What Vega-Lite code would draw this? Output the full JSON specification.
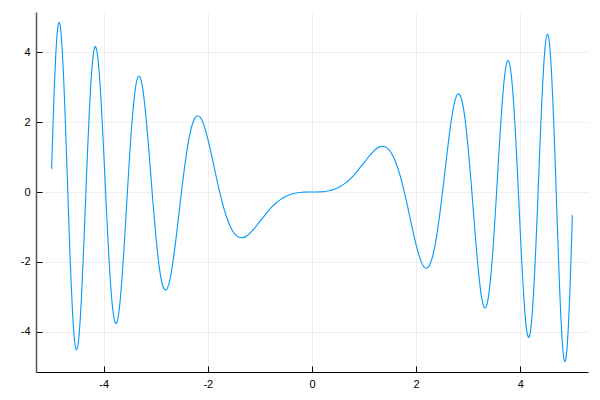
{
  "$schema": "https://vega.github.io/schema/vega-lite/v6.json",
  "width": 552,
  "height": 360,
  "autosize": {"type": "none"},
  "padding": {"left": 36, "top": 12, "right": 12, "bottom": 28},
  "background": "white",
  "config": {
    "view": {"stroke": null},
    "axis": {
      "gridColor": "#000000",
      "gridOpacity": 0.1,
      "gridWidth": 0.6,
      "domainColor": "#000000",
      "domainWidth": 1,
      "tickColor": "#000000",
      "tickSize": -6,
      "tickWidth": 1,
      "labelFont": "Liberation Sans",
      "labelFontSize": 11,
      "labelColor": "#000000",
      "labelPadding": 12,
      "title": null
    }
  },
  "data": {"values": [
    {"x": -5, "y": 0.662}, {"x": -4.975, "y": 1.8557}, {"x": -4.95, "y": 2.9173}, {"x": -4.925, "y": 3.788},
    {"x": -4.9, "y": 4.4164}, {"x": -4.875, "y": 4.774}, {"x": -4.856, "y": 4.855}, {"x": -4.85, "y": 4.8462},
    {"x": -4.825, "y": 4.635}, {"x": -4.8, "y": 4.1593}, {"x": -4.775, "y": 3.4571}, {"x": -4.75, "y": 2.5686},
    {"x": -4.725, "y": 1.5507}, {"x": -4.7, "y": 0.4636}, {"x": -4.675, "y": -0.6321}, {"x": -4.65, "y": -1.6759},
    {"x": -4.625, "y": -2.6136}, {"x": -4.6, "y": -3.3989}, {"x": -4.575, "y": -3.9921}, {"x": -4.55, "y": -4.3701},
    {"x": -4.522, "y": -4.521}, {"x": -4.5, "y": -4.4345}, {"x": -4.475, "y": -4.1309}, {"x": -4.45, "y": -3.6276},
    {"x": -4.425, "y": -2.9541}, {"x": -4.4, "y": -2.1496}, {"x": -4.375, "y": -1.2552}, {"x": -4.35, "y": -0.3169},
    {"x": -4.325, "y": 0.6206}, {"x": -4.3, "y": 1.5132}, {"x": -4.275, "y": 2.3213}, {"x": -4.25, "y": 3.01},
    {"x": -4.225, "y": 3.5532}, {"x": -4.2, "y": 3.929}, {"x": -4.175, "y": 4.127}, {"x": -4.16, "y": 4.159},
    {"x": -4.15, "y": 4.1432}, {"x": -4.125, "y": 3.9827}, {"x": -4.1, "y": 3.6576}, {"x": -4.075, "y": 3.1858},
    {"x": -4.05, "y": 2.5917}, {"x": -4.025, "y": 1.9034}, {"x": -4, "y": 1.1515}, {"x": -3.975, "y": 0.3677},
    {"x": -3.95, "y": -0.4159}, {"x": -3.925, "y": -1.1689}, {"x": -3.9, "y": -1.863}, {"x": -3.875, "y": -2.4738},
    {"x": -3.85, "y": -2.9804}, {"x": -3.825, "y": -3.3687}, {"x": -3.8, "y": -3.6271}, {"x": -3.775, "y": -3.7508},
    {"x": -3.765, "y": -3.762}, {"x": -3.75, "y": -3.7395}, {"x": -3.725, "y": -3.598}, {"x": -3.7, "y": -3.3368},
    {"x": -3.675, "y": -2.9661}, {"x": -3.65, "y": -2.5046}, {"x": -3.625, "y": -1.9691}, {"x": -3.6, "y": -1.3807},
    {"x": -3.575, "y": -0.76}, {"x": -3.55, "y": -0.1281}, {"x": -3.525, "y": 0.4946}, {"x": -3.5, "y": 1.089},
    {"x": -3.45, "y": 2.1262}, {"x": -3.4, "y": 2.8727}, {"x": -3.35, "y": 3.2641}, {"x": -3.323, "y": 3.319},
    {"x": -3.3, "y": 3.2816}, {"x": -3.25, "y": 2.9503}, {"x": -3.2, "y": 2.3287}, {"x": -3.15, "y": 1.5039},
    {"x": -3.1, "y": 0.5708}, {"x": -3.05, "y": -0.3721}, {"x": -3, "y": -1.2364}, {"x": -2.95, "y": -1.9504},
    {"x": -2.9, "y": -2.4632}, {"x": -2.85, "y": -2.7479}, {"x": -2.814, "y": -2.808}, {"x": -2.8, "y": -2.7997},
    {"x": -2.75, "y": -2.6347}, {"x": -2.7, "y": -2.2827}, {"x": -2.65, "y": -1.7856}, {"x": -2.6, "y": -1.1932},
    {"x": -2.55, "y": -0.5547}, {"x": -2.5, "y": 0.083}, {"x": -2.45, "y": 0.6787}, {"x": -2.4, "y": 1.1991},
    {"x": -2.35, "y": 1.6203}, {"x": -2.3, "y": 1.9273}, {"x": -2.25, "y": 2.1135}, {"x": -2.2, "y": 2.1821},
    {"x": -2.15, "y": 2.1414}, {"x": -2.1, "y": 2.0054}, {"x": -2.05, "y": 1.7891}, {"x": -2, "y": 1.5136},
    {"x": -1.95, "y": 1.1972}, {"x": -1.9, "y": 0.8578}, {"x": -1.85, "y": 0.5128}, {"x": -1.8, "y": 0.1768},
    {"x": -1.75, "y": -0.1383}, {"x": -1.7, "y": -0.4232}, {"x": -1.65, "y": -0.6714}, {"x": -1.6, "y": -0.879},
    {"x": -1.55, "y": -1.0439}, {"x": -1.5, "y": -1.1671}, {"x": -1.45, "y": -1.2498}, {"x": -1.4, "y": -1.2953},
    {"x": -1.35, "y": -1.3075}, {"x": -1.3, "y": -1.2908}, {"x": -1.25, "y": -1.25}, {"x": -1.2, "y": -1.1898},
    {"x": -1.15, "y": -1.1148}, {"x": -1.1, "y": -1.0292}, {"x": -1.05, "y": -0.9371}, {"x": -1, "y": -0.8415},
    {"x": -0.95, "y": -0.7456}, {"x": -0.9, "y": -0.6519}, {"x": -0.85, "y": -0.5621}, {"x": -0.8, "y": -0.4778},
    {"x": -0.75, "y": -0.4}, {"x": -0.7, "y": -0.3294}, {"x": -0.65, "y": -0.2665}, {"x": -0.6, "y": -0.2114},
    {"x": -0.55, "y": -0.1639}, {"x": -0.5, "y": -0.1237}, {"x": -0.45, "y": -0.0905}, {"x": -0.4, "y": -0.0637},
    {"x": -0.35, "y": -0.0428}, {"x": -0.3, "y": -0.027}, {"x": -0.25, "y": -0.0156}, {"x": -0.2, "y": -0.008},
    {"x": -0.15, "y": -0.0034}, {"x": -0.1, "y": -0.001}, {"x": -0.05, "y": -0.0001}, {"x": 0, "y": 0},
    {"x": 0.05, "y": 0.0001}, {"x": 0.1, "y": 0.001}, {"x": 0.15, "y": 0.0034}, {"x": 0.2, "y": 0.008},
    {"x": 0.25, "y": 0.0156}, {"x": 0.3, "y": 0.027}, {"x": 0.35, "y": 0.0428}, {"x": 0.4, "y": 0.0637},
    {"x": 0.45, "y": 0.0905}, {"x": 0.5, "y": 0.1237}, {"x": 0.55, "y": 0.1639}, {"x": 0.6, "y": 0.2114},
    {"x": 0.65, "y": 0.2665}, {"x": 0.7, "y": 0.3294}, {"x": 0.75, "y": 0.4}, {"x": 0.8, "y": 0.4778},
    {"x": 0.85, "y": 0.5621}, {"x": 0.9, "y": 0.6519}, {"x": 0.95, "y": 0.7456}, {"x": 1, "y": 0.8415},
    {"x": 1.05, "y": 0.9371}, {"x": 1.1, "y": 1.0292}, {"x": 1.15, "y": 1.1148}, {"x": 1.2, "y": 1.1898},
    {"x": 1.25, "y": 1.25}, {"x": 1.3, "y": 1.2908}, {"x": 1.35, "y": 1.3075}, {"x": 1.4, "y": 1.2953},
    {"x": 1.45, "y": 1.2498}, {"x": 1.5, "y": 1.1671}, {"x": 1.55, "y": 1.0439}, {"x": 1.6, "y": 0.879},
    {"x": 1.65, "y": 0.6714}, {"x": 1.7, "y": 0.4232}, {"x": 1.75, "y": 0.1383}, {"x": 1.8, "y": -0.1768},
    {"x": 1.85, "y": -0.5128}, {"x": 1.9, "y": -0.8578}, {"x": 1.95, "y": -1.1972}, {"x": 2, "y": -1.5136},
    {"x": 2.05, "y": -1.7891}, {"x": 2.1, "y": -2.0054}, {"x": 2.15, "y": -2.1414}, {"x": 2.2, "y": -2.1821},
    {"x": 2.25, "y": -2.1135}, {"x": 2.3, "y": -1.9273}, {"x": 2.35, "y": -1.6203}, {"x": 2.4, "y": -1.1991},
    {"x": 2.45, "y": -0.6787}, {"x": 2.5, "y": -0.083}, {"x": 2.55, "y": 0.5547}, {"x": 2.6, "y": 1.1932},
    {"x": 2.65, "y": 1.7856}, {"x": 2.7, "y": 2.2827}, {"x": 2.75, "y": 2.6347}, {"x": 2.8, "y": 2.7997},
    {"x": 2.814, "y": 2.808}, {"x": 2.85, "y": 2.7479}, {"x": 2.9, "y": 2.4632}, {"x": 2.95, "y": 1.9504},
    {"x": 3, "y": 1.2364}, {"x": 3.05, "y": 0.3721}, {"x": 3.1, "y": -0.5708}, {"x": 3.15, "y": -1.5039},
    {"x": 3.2, "y": -2.3287}, {"x": 3.25, "y": -2.9503}, {"x": 3.3, "y": -3.2816}, {"x": 3.323, "y": -3.319},
    {"x": 3.35, "y": -3.2641}, {"x": 3.4, "y": -2.8727}, {"x": 3.45, "y": -2.1262}, {"x": 3.5, "y": -1.089},
    {"x": 3.525, "y": -0.4946}, {"x": 3.55, "y": 0.1281}, {"x": 3.575, "y": 0.76}, {"x": 3.6, "y": 1.3807},
    {"x": 3.625, "y": 1.9691}, {"x": 3.65, "y": 2.5046}, {"x": 3.675, "y": 2.9661}, {"x": 3.7, "y": 3.3368},
    {"x": 3.725, "y": 3.598}, {"x": 3.75, "y": 3.7395}, {"x": 3.765, "y": 3.762}, {"x": 3.775, "y": 3.7508},
    {"x": 3.8, "y": 3.6271}, {"x": 3.825, "y": 3.3687}, {"x": 3.85, "y": 2.9804}, {"x": 3.875, "y": 2.4738},
    {"x": 3.9, "y": 1.863}, {"x": 3.925, "y": 1.1689}, {"x": 3.95, "y": 0.4159}, {"x": 3.975, "y": -0.3677},
    {"x": 4, "y": -1.1515}, {"x": 4.025, "y": -1.9034}, {"x": 4.05, "y": -2.5917}, {"x": 4.075, "y": -3.1858},
    {"x": 4.1, "y": -3.6576}, {"x": 4.125, "y": -3.9827}, {"x": 4.15, "y": -4.1432}, {"x": 4.16, "y": -4.159},
    {"x": 4.175, "y": -4.127}, {"x": 4.2, "y": -3.929}, {"x": 4.225, "y": -3.5532}, {"x": 4.25, "y": -3.01},
    {"x": 4.275, "y": -2.3213}, {"x": 4.3, "y": -1.5132}, {"x": 4.325, "y": -0.6206}, {"x": 4.35, "y": 0.3169},
    {"x": 4.375, "y": 1.2552}, {"x": 4.4, "y": 2.1496}, {"x": 4.425, "y": 2.9541}, {"x": 4.45, "y": 3.6276},
    {"x": 4.475, "y": 4.1309}, {"x": 4.5, "y": 4.4345}, {"x": 4.522, "y": 4.521}, {"x": 4.55, "y": 4.3701},
    {"x": 4.575, "y": 3.9921}, {"x": 4.6, "y": 3.3989}, {"x": 4.625, "y": 2.6136}, {"x": 4.65, "y": 1.6759},
    {"x": 4.675, "y": 0.6321}, {"x": 4.7, "y": -0.4636}, {"x": 4.725, "y": -1.5507}, {"x": 4.75, "y": -2.5686},
    {"x": 4.775, "y": -3.4571}, {"x": 4.8, "y": -4.1593}, {"x": 4.825, "y": -4.635}, {"x": 4.85, "y": -4.8462},
    {"x": 4.856, "y": -4.855}, {"x": 4.875, "y": -4.774}, {"x": 4.9, "y": -4.4164}, {"x": 4.925, "y": -3.788},
    {"x": 4.95, "y": -2.9173}, {"x": 4.975, "y": -1.8557}, {"x": 5, "y": -0.662}
  ]},
  "mark": {"type": "line", "color": "#009AF9", "strokeWidth": 1.1, "interpolate": "monotone"},
  "encoding": {
    "x": {
      "field": "x", "type": "quantitative",
      "scale": {"domain": [-5.3, 5.3], "nice": false, "zero": false},
      "axis": {"values": [-4, -2, 0, 2, 4], "labelExpr": "'' + datum.value"}
    },
    "y": {
      "field": "y", "type": "quantitative",
      "scale": {"domain": [-5.15, 5.15], "nice": false, "zero": false},
      "axis": {"values": [-4, -2, 0, 2, 4], "labelExpr": "'' + datum.value", "domainColor": "#555555", "domainWidth": 1.5}
    }
  }
}
